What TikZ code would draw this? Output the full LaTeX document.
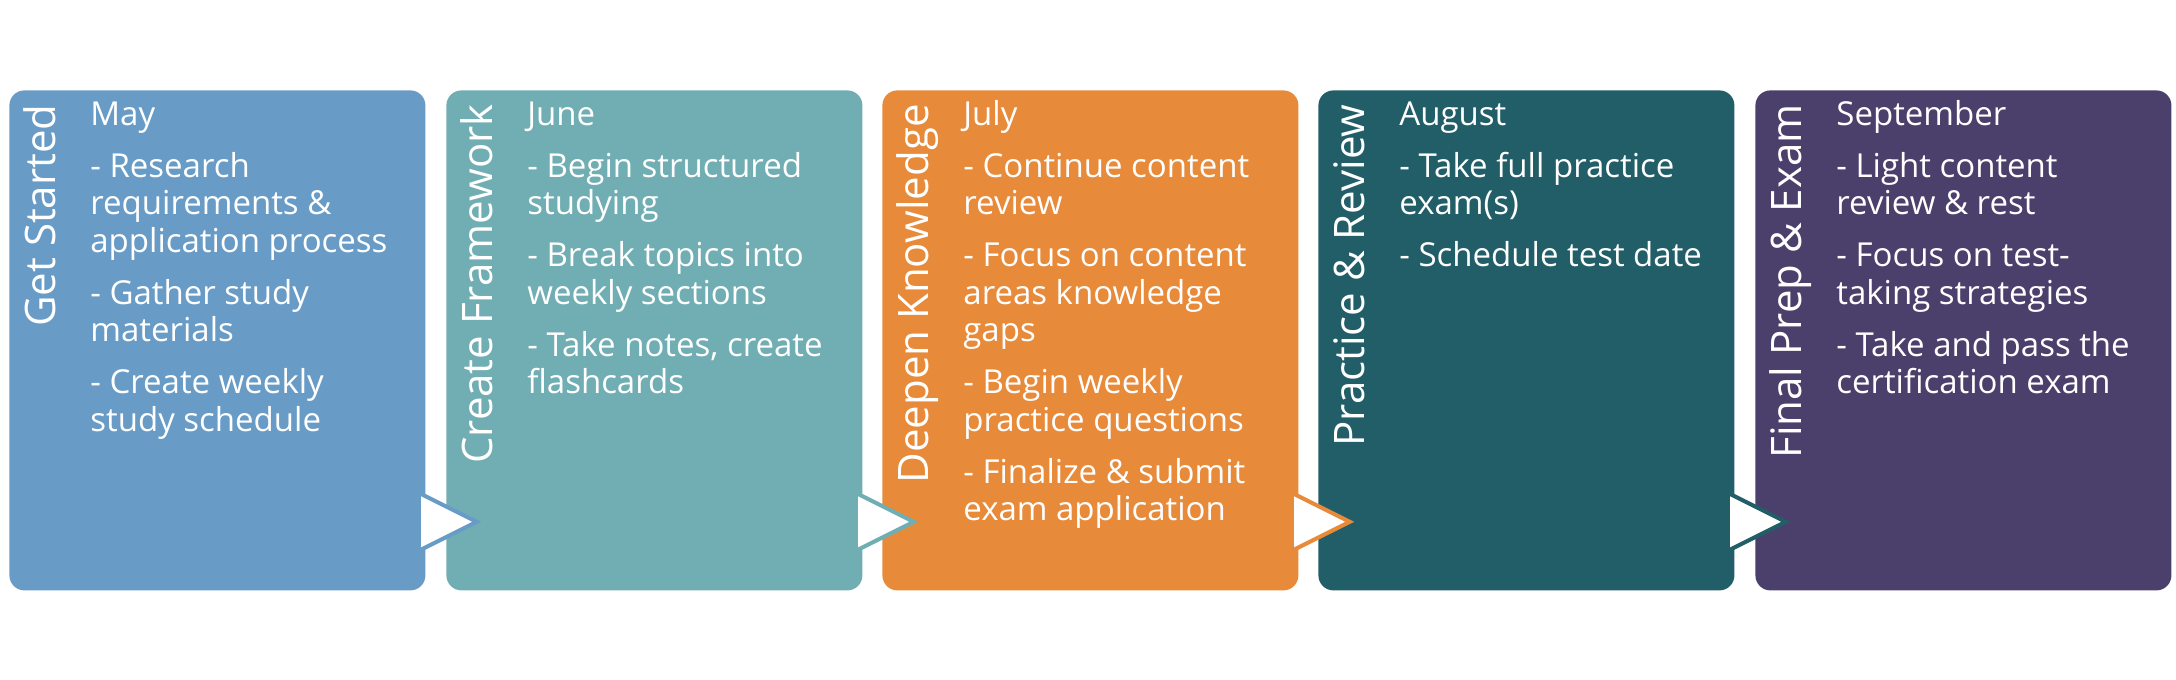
\documentclass[tikz,border=0pt]{standalone}
\usepackage{fontspec}
\setmainfont{Open Sans}
\usetikzlibrary{calc}
\definecolor{cA}{HTML}{689CC6}
\definecolor{cB}{HTML}{71AEB3}
\definecolor{cC}{HTML}{E78A3A}
\definecolor{cD}{HTML}{225E68}
\definecolor{cE}{HTML}{4B406B}
\newcommand{\fstrut}{\rule{0pt}{14pt}}
\begin{document}
\begin{tikzpicture}[x=0.5pt,y=-0.5pt,
  box/.style={rounded corners=7.5pt, minimum width=208pt, minimum height=250pt, anchor=north west, inner sep=0pt, draw=none},
  ttl/.style={rotate=90, anchor=base east, text=white, font=\fontsize{21}{25}\selectfont, inner sep=0pt},
  body/.style={anchor=north west, align=left, text=white, font=\fontsize{16.5}{18.75}\selectfont, inner sep=0pt},
  chev/.style={fill=white, line width=2pt, line join=miter}]
\useasboundingbox (0,0) rectangle (2176,680);
% boxes
\node[box, fill=cA] (b1) at (9,90) {};
\node[box, fill=cB] (b2) at (446,90) {};
\node[box, fill=cC] (b3) at (882,90) {};
\node[box, fill=cD] (b4) at (1318,90) {};
\node[box, fill=cE] (b5) at (1755,90) {};
% titles
\node[ttl] (t1) at ($(b1.north west)+(46,14)$) {Get Started};
\node[ttl] (t2) at ($(b2.north west)+(46,14)$) {Create Framework};
\node[ttl] (t3) at ($(b3.north west)+(46,14)$) {Deepen Knowledge};
\node[ttl] (t4) at ($(b4.north west)+(46,14)$) {Practice \& Review};
\node[ttl] (t5) at ($(b5.north west)+(46,14)$) {Final Prep \& Exam};
% bodies (first baseline 35px below box top)
\node[body] (x1) at ($(b1.north west)+(81,7)$) {\fstrut May\\[7.25pt]- Research\\requirements \&\\application process\\[7.25pt]- Gather study\\materials\\[7.25pt]- Create weekly\\study schedule};
\node[body] (x2) at ($(b2.north west)+(81,7)$) {\fstrut June\\[7.25pt]- Begin structured\\studying\\[7.25pt]- Break topics into\\weekly sections\\[7.25pt]- Take notes, create\\flashcards};
\node[body] (x3) at ($(b3.north west)+(81,7)$) {\fstrut July\\[7.25pt]- Continue content\\review\\[7.25pt]- Focus on content\\areas knowledge\\gaps\\[7.25pt]- Begin weekly\\practice questions\\[7.25pt]- Finalize \& submit\\exam application};
\node[body] (x4) at ($(b4.north west)+(81,7)$) {\fstrut August\\[7.25pt]- Take full practice\\exam(s)\\[7.25pt]- Schedule test date};
\node[body] (x5) at ($(b5.north west)+(81,7)$) {\fstrut September\\[7.25pt]- Light content\\review \& rest\\[7.25pt]- Focus on test-\\taking strategies\\[7.25pt]- Take and pass the\\certification exam};
% chevrons
\foreach \a/\c in {b1/cA,b2/cB,b3/cC,b4/cD}{
  \draw[chev, draw=\c] ($(\a.south east)+(-7,-98)$) -- ($(\a.south east)+(51,-69)$) -- ($(\a.south east)+(-7,-40)$) -- cycle;
}
\end{tikzpicture}
\end{document}
